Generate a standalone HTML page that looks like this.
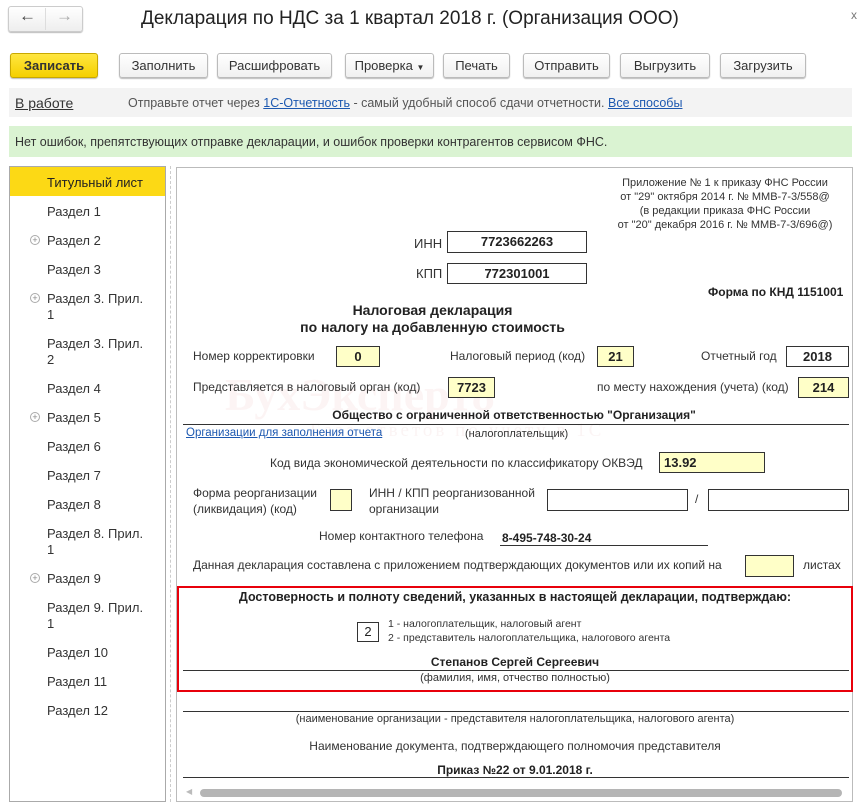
<!DOCTYPE html>
<html><head><meta charset="utf-8"><style>
*{margin:0;padding:0;box-sizing:border-box}
body{width:863px;height:805px;background:#fff;position:relative;overflow:hidden;font-family:"Liberation Sans",sans-serif;color:#333;font-size:13px}
.a{position:absolute;white-space:nowrap}
.btn{position:absolute;top:53px;height:25px;border:1px solid #bbb;border-radius:3px;background:linear-gradient(#fff,#f0f0f0);box-shadow:0 1px 1px #bbb;text-align:center;line-height:23px;font-size:13px;color:#333}
.box{position:absolute;border:1px solid #333;text-align:center;font-weight:bold;font-size:13px;color:#222}
.y{background:#ffffc8}
.f{font-size:12px;color:#333}
.n{position:absolute;left:47px;font-size:13px;color:#333;line-height:16px}
.pl{position:absolute;left:30px;width:10px;height:10px;border:1px solid #aaa;border-radius:50%;font-size:9px;line-height:8px;text-align:center;color:#888}
.ln{position:absolute;height:1px;background:#333}
</style></head><body>
<div class="a" style="left:8px;top:6px;width:75px;height:26px;border:1px solid #ccc;border-radius:3px;background:linear-gradient(#fff,#eee);box-shadow:0 1px 1px #bbb"></div>
<div class="a" style="left:45px;top:8px;width:1px;height:22px;background:#ddd"></div>
<div class="a" style="left:19px;top:6px;font-size:17px;color:#444;font-weight:bold">&#8592;</div>
<div class="a" style="left:56px;top:6px;font-size:17px;color:#aaa;font-weight:bold">&#8594;</div>
<div class="a" style="left:141px;top:8px;font-size:19px;color:#222">Декларация по НДС за 1 квартал 2018 г. (Организация ООО)</div>
<div class="a" style="left:851px;top:8px;font-size:12px;color:#777">x</div>

<div class="btn" style="left:10px;width:88px;background:linear-gradient(#ffe640,#f5d000);border-color:#c8a800;font-weight:bold;color:#333">Записать</div>
<div class="btn" style="left:119px;width:89px">Заполнить</div>
<div class="btn" style="left:217px;width:115px">Расшифровать</div>
<div class="btn" style="left:345px;width:89px">Проверка <span style="font-size:8px">▼</span></div>
<div class="btn" style="left:443px;width:67px">Печать</div>
<div class="btn" style="left:523px;width:87px">Отправить</div>
<div class="btn" style="left:620px;width:90px">Выгрузить</div>
<div class="btn" style="left:720px;width:86px">Загрузить</div>

<div class="a" style="left:9px;top:88px;width:843px;height:29px;background:#f3f3f3"></div>
<div class="a" style="left:15px;top:95px;font-size:14px;color:#333;text-decoration:underline">В работе</div>
<div class="a" style="left:128px;top:96px;font-size:12.5px;color:#555">Отправьте отчет через <span style="color:#1c58b0;text-decoration:underline">1С-Отчетность</span> - самый удобный способ сдачи отчетности. <span style="color:#1c58b0;text-decoration:underline">Все способы</span></div>

<div class="a" style="left:9px;top:126px;width:843px;height:31px;background:#daf3d2"></div>
<div class="a" style="left:15px;top:135px;font-size:12.5px;color:#333">Нет ошибок, препятствующих отправке декларации, и ошибок проверки контрагентов сервисом ФНС.</div>

<div class="a" style="left:9px;top:166px;width:157px;height:636px;border:1px solid #aaa"></div>
<div class="a" style="left:10px;top:167px;width:155px;height:29px;background:#fcd915"></div>
<div class="n" style="top:175px;color:#222">Титульный лист</div>
<div class="n" style="top:204px">Раздел 1</div>
<div class="pl" style="top:235px">+</div><div class="n" style="top:233px">Раздел 2</div>
<div class="n" style="top:262px">Раздел 3</div>
<div class="pl" style="top:293px">+</div><div class="n" style="top:291px">Раздел 3. Прил.<br>1</div>
<div class="n" style="top:336px">Раздел 3. Прил.<br>2</div>
<div class="n" style="top:381px">Раздел 4</div>
<div class="pl" style="top:412px">+</div><div class="n" style="top:410px">Раздел 5</div>
<div class="n" style="top:439px">Раздел 6</div>
<div class="n" style="top:468px">Раздел 7</div>
<div class="n" style="top:497px">Раздел 8</div>
<div class="n" style="top:526px">Раздел 8. Прил.<br>1</div>
<div class="pl" style="top:573px">+</div><div class="n" style="top:571px">Раздел 9</div>
<div class="n" style="top:600px">Раздел 9. Прил.<br>1</div>
<div class="n" style="top:645px">Раздел 10</div>
<div class="n" style="top:674px">Раздел 11</div>
<div class="n" style="top:703px">Раздел 12</div>

<div class="a" style="left:170px;top:166px;width:1px;height:636px;border-left:1px dashed #ccc"></div>
<div class="a" style="left:176px;top:167px;width:677px;height:635px;border:1px solid #bbb"></div>

<div class="a f" style="left:600px;top:176px;width:250px;text-align:center;font-size:11px;line-height:14px">Приложение № 1 к приказу ФНС России<br>от "29" октября 2014 г. № ММВ-7-3/558@<br>(в редакции приказа ФНС России<br>от "20" декабря 2016 г. № ММВ-7-3/696@)</div>
<div class="a" style="left:414px;top:236px;font-size:13px">ИНН</div>
<div class="box" style="left:447px;top:231px;width:140px;height:22px;line-height:20px">7723662263</div>
<div class="a" style="left:416px;top:266px;font-size:13px">КПП</div>
<div class="box" style="left:447px;top:263px;width:140px;height:21px;line-height:19px">772301001</div>
<div class="a" style="left:708px;top:285px;font-size:12px;font-weight:bold;color:#222">Форма по КНД 1151001</div>
<div class="a" style="left:280px;top:302px;width:305px;text-align:center;font-size:14px;font-weight:bold;line-height:17px;color:#222">Налоговая декларация<br>по налогу на добавленную стоимость</div>

<div class="a f" style="left:193px;top:349px">Номер корректировки</div>
<div class="box y" style="left:336px;top:346px;width:44px;height:21px;line-height:19px">0</div>
<div class="a f" style="left:450px;top:349px">Налоговый период (код)</div>
<div class="box y" style="left:597px;top:346px;width:37px;height:21px;line-height:19px">21</div>
<div class="a f" style="left:701px;top:349px">Отчетный год</div>
<div class="box" style="left:786px;top:346px;width:63px;height:21px;line-height:19px">2018</div>

<div class="a" style="left:225px;top:368px;font-size:46px;font-weight:bold;color:rgba(220,120,120,0.08);font-family:'Liberation Serif',serif">БухЭксперт8</div>
<div class="a" style="left:310px;top:420px;font-size:19px;letter-spacing:3px;color:rgba(200,120,120,0.08);font-family:'Liberation Serif',serif">База ответов по учету в 1С</div>

<div class="a f" style="left:193px;top:380px">Представляется в налоговый орган (код)</div>
<div class="box y" style="left:448px;top:377px;width:47px;height:21px;line-height:19px">7723</div>
<div class="a f" style="left:597px;top:380px">по месту нахождения (учета) (код)</div>
<div class="box y" style="left:798px;top:377px;width:51px;height:21px;line-height:19px">214</div>

<div class="a" style="left:180px;top:408px;width:668px;text-align:center;font-size:12px;font-weight:bold;color:#222">Общество с ограниченной ответственностью "Организация"</div>
<div class="ln" style="left:183px;top:424px;width:666px"></div>
<div class="a" style="left:186px;top:427px;font-size:11.5px;color:#1c58b0;text-decoration:underline">Организации для заполнения отчета</div>
<div class="a" style="left:465px;top:428px;font-size:11px">(налогоплательщик)</div>

<div class="a f" style="left:270px;top:456px">Код вида экономической деятельности по классификатору ОКВЭД</div>
<div class="box y" style="left:659px;top:452px;width:106px;height:21px;line-height:19px;text-align:left;padding-left:4px">13.92</div>

<div class="a f" style="left:193px;top:485px;line-height:16px">Форма реорганизации<br>(ликвидация) (код)</div>
<div class="box y" style="left:330px;top:489px;width:22px;height:22px"></div>
<div class="a f" style="left:369px;top:485px;line-height:16px">ИНН / КПП реорганизованной<br>организации</div>
<div class="box" style="left:547px;top:489px;width:141px;height:22px"></div>
<div class="a f" style="left:695px;top:492px">/</div>
<div class="box" style="left:708px;top:489px;width:141px;height:22px"></div>

<div class="a f" style="left:319px;top:529px">Номер контактного телефона</div>
<div class="a" style="left:502px;top:531px;font-size:12px;font-weight:bold;color:#222">8-495-748-30-24</div>
<div class="ln" style="left:500px;top:545px;width:208px"></div>

<div class="a f" style="left:193px;top:558px">Данная декларация составлена с приложением подтверждающих документов или их копий на</div>
<div class="box y" style="left:745px;top:555px;width:49px;height:22px"></div>
<div class="a f" style="left:803px;top:558px">листах</div>

<div class="a" style="left:177px;top:586px;width:676px;height:106px;border:2px solid #e8000b"></div>
<div class="a" style="left:180px;top:590px;width:670px;text-align:center;font-size:12.5px;font-weight:bold;color:#222">Достоверность и полноту сведений, указанных в настоящей декларации, подтверждаю:</div>
<div class="box" style="left:357px;top:622px;width:22px;height:20px;line-height:18px;font-weight:normal">2</div>
<div class="a" style="left:388px;top:617px;font-size:10.5px;line-height:14px">1 - налогоплательщик, налоговый агент<br>2 - представитель налогоплательщика, налогового агента</div>
<div class="a" style="left:180px;top:655px;width:670px;text-align:center;font-size:12px;font-weight:bold;color:#222">Степанов Сергей Сергеевич</div>
<div class="ln" style="left:183px;top:670px;width:666px"></div>
<div class="a" style="left:180px;top:672px;width:670px;text-align:center;font-size:11px">(фамилия, имя, отчество полностью)</div>

<div class="ln" style="left:183px;top:711px;width:666px"></div>
<div class="a" style="left:180px;top:713px;width:670px;text-align:center;font-size:11px">(наименование организации - представителя налогоплательщика, налогового агента)</div>
<div class="a" style="left:180px;top:739px;width:670px;text-align:center;font-size:12px">Наименование документа, подтверждающего полномочия представителя</div>
<div class="a" style="left:180px;top:763px;width:670px;text-align:center;font-size:12px;font-weight:bold;color:#222">Приказ №22 от 9.01.2018 г.</div>
<div class="ln" style="left:183px;top:777px;width:666px"></div>
<div class="a" style="left:186px;top:787px;font-size:8px;color:#bbb">◀</div>
<div class="a" style="left:200px;top:789px;width:642px;height:8px;border-radius:4px;background:#b5b5b5"></div>
</body></html>
